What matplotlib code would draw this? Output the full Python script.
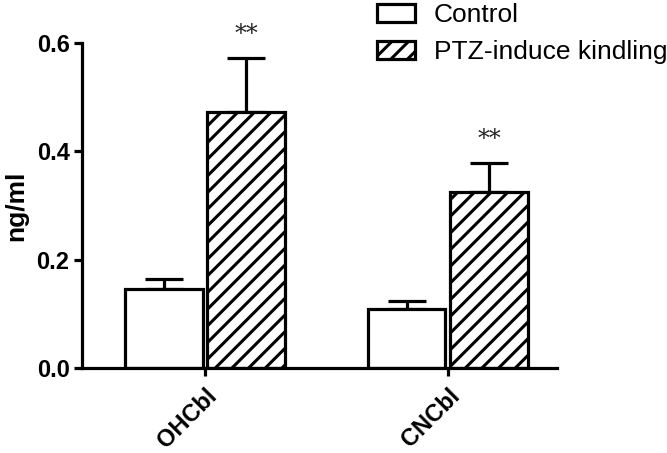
import matplotlib
matplotlib.use("Agg")
import matplotlib.pyplot as plt
import numpy as np

categories = ["OHCbl", "CNCbl"]
series_names = ["Control", "PTZ-induce kindling"]
control_vals = [0.146, 0.109]
control_err = [0.018, 0.015]
ptz_vals = [0.473, 0.325]
ptz_err = [0.099, 0.053]
yticks = [0.0, 0.2, 0.4, 0.6]
ytick_labels = ["0.0", "0.2", "0.4", "0.6"]

plt.rcParams['font.family'] = ['Liberation Sans', 'DejaVu Sans']
plt.rcParams['hatch.linewidth'] = 2.2
plt.rcParams['hatch.color'] = 'black'

W, H = 667, 453
fig = plt.figure(figsize=(W/100, H/100), dpi=100)
ax = fig.add_axes([82/W, 1 - 368/H, (557-82)/W, (368-43)/H])

x = np.arange(len(categories))
bw = 0.32
gap = 0.02
lw = 2.3
ekw = dict(elinewidth=lw, capthick=lw, ecolor='black')

ax.bar(x - bw/2 - gap/2, control_vals, bw, color='white', edgecolor='black',
       linewidth=lw, label=series_names[0], zorder=2)
ax.errorbar(x - bw/2 - gap/2, control_vals, yerr=[np.zeros(2), control_err], fmt='none',
            capsize=14, clip_on=False, zorder=1, **ekw)
ax.bar(x + bw/2 + gap/2, ptz_vals, bw, color='white', edgecolor='black',
       linewidth=lw, hatch='//', label=series_names[1], zorder=2)
ax.errorbar(x + bw/2 + gap/2, ptz_vals, yerr=[np.zeros(2), ptz_err], fmt='none',
            capsize=14, clip_on=False, zorder=1, **ekw)

for xi, v, e in zip(x + bw/2 + gap/2, ptz_vals, ptz_err):
    ax.annotate("**", (xi, v + e), xytext=(0, 9), textcoords='offset points',
                ha='center', va='bottom', fontsize=17, family='DejaVu Serif',
                fontweight='light', color='#222222', annotation_clip=False)

ax.set_xlim(-0.506, 1.449)
ax.set_ylim(0, 0.6)
ax.set_yticks(yticks)
ax.set_yticklabels(ytick_labels, fontsize=17, fontweight='bold')
ax.set_xticks(x)
ax.set_xticklabels(categories, fontsize=17, fontweight='bold', rotation=45,
                   ha='right', va='top', rotation_mode='anchor')
ax.set_ylabel("ng/ml", fontsize=19, fontweight='bold', labelpad=6)

for s in ['top', 'right']:
    ax.spines[s].set_visible(False)
for s in ['left', 'bottom']:
    ax.spines[s].set_linewidth(lw)
ax.tick_params(axis='both', width=lw, length=6, direction='out')
ax.tick_params(axis='y', pad=3)
ax.tick_params(axis='x', pad=6)

leg = ax.legend(loc='upper left', bbox_to_anchor=(377/W, 1 - 3/H), bbox_transform=fig.transFigure,
                frameon=False, fontsize=19, handlelength=1.45, handleheight=0.68,
                handletextpad=0.7, labelspacing=0.5, borderpad=0, borderaxespad=0)

fig.savefig("out.png", dpi=100)
